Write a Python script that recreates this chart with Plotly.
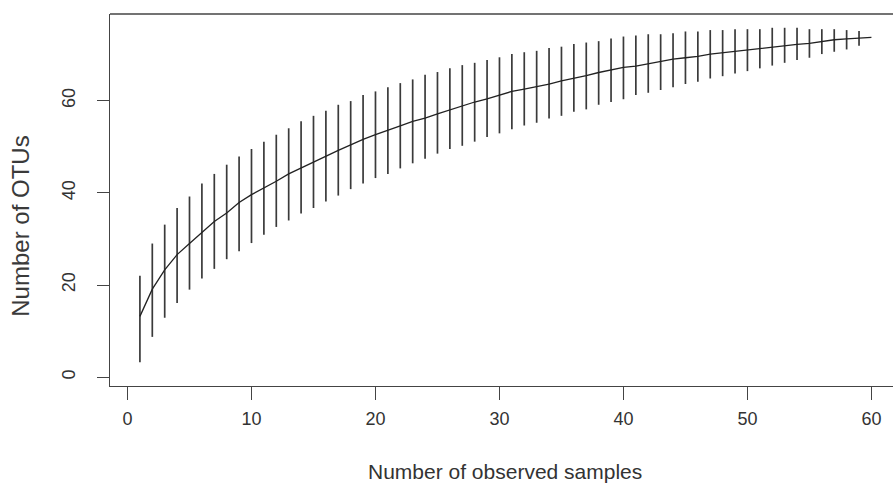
import plotly.graph_objects as go

samples = list(range(1, 61))
mean_otus = [13.2, 19.1, 23.3, 26.6, 29.0, 31.3, 33.8, 35.6, 37.9, 39.6,
             41.0, 42.5, 44.1, 45.4, 46.6, 48.0, 49.2, 50.4, 51.6, 52.6,
             53.5, 54.5, 55.5, 56.2, 57.1, 58.0, 58.9, 59.7, 60.4, 61.2,
             62.0, 62.5, 63.0, 63.6, 64.3, 64.8, 65.4, 66.1, 66.7, 67.2,
             67.5, 68.0, 68.4, 69.0, 69.3, 69.6, 70.1, 70.4, 70.8, 71.1,
             71.4, 71.6, 71.9, 72.2, 72.4, 72.8, 73.2, 73.4, 73.5, 73.7]
upper_otus = [22.0, 29.0, 33.1, 36.7, 39.2, 42.0, 44.1, 46.1, 47.9, 49.5,
              51.1, 52.6, 54.0, 55.5, 56.7, 57.8, 59.1, 59.9, 61.2, 62.0,
              62.9, 63.8, 64.6, 65.6, 66.2, 67.0, 67.7, 68.2, 68.8, 69.4,
              70.1, 70.5, 70.8, 71.4, 71.7, 72.3, 72.6, 72.9, 73.5, 73.9,
              74.1, 74.4, 74.4, 74.6, 75.0, 75.0, 75.3, 75.3, 75.5, 75.5,
              75.5, 75.8, 75.8, 75.8, 75.5, 75.5, 75.5, 75.3, 75.1, 73.7]
lower_otus = [3.25, 8.75, 12.9, 16.1, 19.0, 21.4, 23.5, 25.6, 27.3, 29.1,
              30.9, 32.6, 34.0, 35.5, 36.7, 38.1, 39.4, 40.8, 42.0, 43.2,
              44.1, 45.3, 46.4, 47.4, 48.5, 49.5, 50.2, 51.1, 52.1, 52.9,
              53.8, 54.6, 55.2, 56.1, 56.7, 57.6, 58.1, 59.1, 59.7, 60.3,
              61.2, 61.7, 62.3, 62.9, 63.6, 64.1, 64.8, 65.3, 65.9, 66.4,
              67.0, 67.6, 68.2, 68.8, 69.3, 70.1, 70.6, 71.1, 71.9, 73.7]
x_ticks = [0, 10, 20, 30, 40, 50, 60]
y_ticks = [0, 20, 40, 60]
x_title = "Number of observed samples"
y_title = "Number of OTUs"

err_plus = [u - m for u, m in zip(upper_otus, mean_otus)]
err_minus = [m - l for m, l in zip(mean_otus, lower_otus)]

fig = go.Figure()
fig.add_trace(go.Scatter(
    x=samples, y=mean_otus, mode="lines",
    line=dict(color="#222222", width=1.3),
    error_y=dict(type="data", symmetric=False, array=err_plus,
                 arrayminus=err_minus, width=0, thickness=1.7,
                 color="#3a3a3a"),
    showlegend=False, hoverinfo="skip"))

font_main = "Liberation Sans, Arial, sans-serif"
fig.update_layout(
    width=893, height=491, autosize=False,
    margin=dict(l=110, r=0, t=14, b=105, pad=0),
    paper_bgcolor="white", plot_bgcolor="white",
    font=dict(family=font_main, size=18, color="#333333"),
    xaxis=dict(range=[-1.412, 61.74], tickvals=x_ticks,
               ticktext=[str(v) for v in x_ticks],
               showgrid=False, zeroline=False, showline=True,
               linecolor="#444444", linewidth=1.3,
               ticks="outside", ticklen=13, tickwidth=1.2,
               tickcolor="#444444", ticklabelstandoff=3,
               tickfont=dict(size=18, color="#333333")),
    yaxis=dict(range=[-1.906, 78.79], tickvals=y_ticks,
               ticktext=[str(v) for v in y_ticks],
               showgrid=False, zeroline=False, showline=True,
               linecolor="#444444", linewidth=1.3,
               ticks="outside", ticklen=12, tickwidth=1.2,
               tickcolor="#444444", tickangle=-90,
               ticklabelstandoff=15,
               tickfont=dict(size=18, color="#333333")),
    shapes=[dict(type="line", xref="paper", yref="paper",
                 x0=0, x1=1, y0=1, y1=1,
                 line=dict(color="#444444", width=1.3))],
    annotations=[
        dict(text=x_title, xref="paper", yref="paper",
             x=(505 - 110) / 783, y=(386.5 - 472) / 372.5,
             xanchor="center", yanchor="middle", showarrow=False,
             font=dict(size=21, color="#333333")),
        dict(text=y_title, xref="paper", yref="paper",
             x=(21 - 110) / 783, y=(386.5 - 227) / 372.5,
             xanchor="center", yanchor="middle", showarrow=False,
             textangle=-90,
             font=dict(size=24, color="#3a3a3a")),
    ],
)

fig.write_html(
    "out.html",
    config={"displayModeBar": False},
    post_script="document.body.style.margin='0px';"
                "document.body.style.overflow='hidden';")
